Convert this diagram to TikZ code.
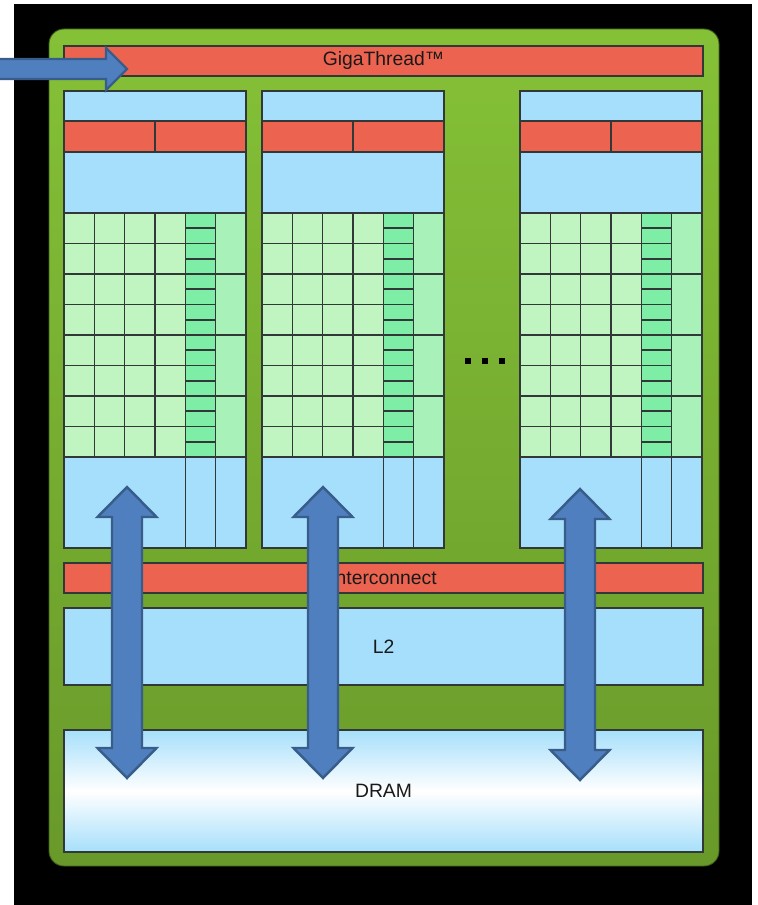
\documentclass[tikz,border=0pt]{standalone}
\usepackage{fontspec}
\setmainfont{Liberation Sans}
\usepackage{tikz}
\usetikzlibrary{calc}
\usepackage{xcolor}
\definecolor{chipgreen}{RGB}{133,193,55}
\definecolor{chipgreendark}{RGB}{104,153,42}
\definecolor{barred}{RGB}{236,100,80}
\definecolor{cacheblue}{RGB}{166,223,251}
\definecolor{coregreen}{RGB}{192,245,194}
\definecolor{ldstgreen}{RGB}{126,237,166}
\definecolor{sfugreen}{RGB}{168,242,186}
\definecolor{busblue}{RGB}{79,127,190}
\definecolor{busedge}{RGB}{56,93,138}
\definecolor{edgegrey}{RGB}{50,55,55}

\tikzset{
  unitbox/.style={draw=edgegrey,line width=0.9pt},
  redbar/.style={unitbox,fill=barred},
  bluebox/.style={unitbox,fill=cacheblue},
  corecell/.style={unitbox,fill=coregreen},
  ldstcell/.style={unitbox,fill=ldstgreen},
  sfucell/.style={unitbox,fill=sfugreen},
  busarrow/.style={fill=busblue,draw=busedge,line width=1.4pt,line join=miter},
  barlabel/.style={font=\fontsize{11}{13}\selectfont,text=black!90}
}

\begin{document}
\begin{tikzpicture}[x=0.02cm,y=-0.02cm]
    \useasboundingbox[fill=white] (0,0) rectangle (757,905);
    \fill[black] (14,4) rectangle (752,905);

    % ── Chip outline ──────────────────────────────────────────
    \draw[rounded corners=0.3cm,top color=chipgreen,bottom color=chipgreendark,
          draw=chipgreendark!60!black,line width=0.5pt]
      (49,29) rectangle (719,866);

    % GigaThread scheduler
    \draw[redbar] (64,46) rectangle (703,76);
    \node[barlabel] (gigathread) at (383.5,61) {GigaThread™};

    % ── Streaming multiprocessors ─────────────────────────────
    \foreach \sx in {64,262,520}{
      \draw[bluebox] (\sx,91) rectangle (\sx+182,121);
      \draw[redbar] (\sx,121) rectangle (\sx+91,152);
      \draw[redbar] (\sx+91,121) rectangle (\sx+182,152);
      \draw[bluebox] (\sx,152) rectangle (\sx+182,213);
      % cores
      \foreach \r in {0,...,7}{
        \foreach \c in {0,...,3}{
          \draw[corecell] (\sx+\c*30.33,213+\r*30.5) rectangle ++(30.33,30.5);
        }
      }
      % load/store units
      \foreach \r in {0,...,15}{
        \draw[ldstcell] (\sx+121.33,213+\r*15.25) rectangle ++(30.33,15.25);
      }
      % special function units
      \foreach \r in {0,...,3}{
        \draw[sfucell] (\sx+151.67,213+\r*61) rectangle ++(30.33,61);
      }
      % register file / shared memory
      \draw[bluebox] (\sx,457) rectangle (\sx+121.33,548);
      \draw[bluebox] (\sx+121.33,457) rectangle (\sx+151.67,548);
      \draw[bluebox] (\sx+151.67,457) rectangle (\sx+182,548);
    }
    % more SMs
    \foreach \dx in {468,485,502}{
      \fill[black] (\dx-3,358) rectangle ++(6,6);
    }

    % ── Memory hierarchy ──────────────────────────────────────
    \draw[redbar] (64,563) rectangle (703,593);
    \node[barlabel] (interconnect) at (383.5,578) {Interconnect};
    \draw[bluebox] (64,608) rectangle (703,685);
    \node[barlabel] (ltwo) at (383.5,646.5) {L2};
    \draw[unitbox,top color=cacheblue,bottom color=cacheblue,middle color=white]
      (64,730) rectangle (703,852);
    \node[barlabel] (dram) at (383.5,791) {DRAM};

    % ── Data paths ────────────────────────────────────────────
    \foreach \ax/\ta/\tb in {127/487/778, 323/487/778, 580/489/780}{
      \draw[busarrow] (\ax,\ta) -- (\ax+29.5,\ta+30) -- (\ax+15,\ta+30)
        -- (\ax+15,\tb-30) -- (\ax+29.5,\tb-30) -- (\ax,\tb)
        -- (\ax-29.5,\tb-30) -- (\ax-15,\tb-30) -- (\ax-15,\ta+30)
        -- (\ax-29.5,\ta+30) -- cycle;
    }
    % host input
    \draw[busarrow] (-2,59) -- (106,59) -- (106,48) -- (127,69)
      -- (106,90) -- (106,79) -- (-2,79) -- cycle;
  \end{tikzpicture}
\end{document}
